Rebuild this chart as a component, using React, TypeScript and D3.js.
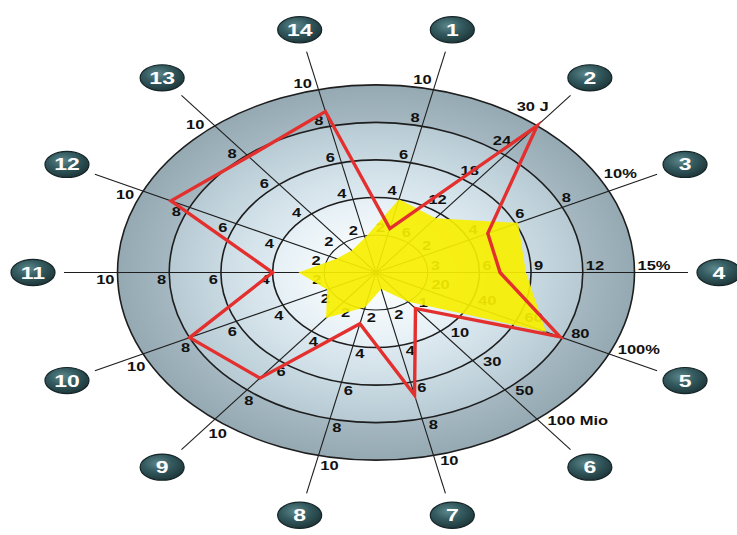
import React from 'react';
import * as d3 from 'd3';

// ---------- data ----------
const axisNumbers = ['1', '2', '3', '4', '5', '6', '7', '8', '9', '10', '11', '12', '13', '14'];
const ringLevels = [2, 4, 6, 8, 10];
const tickLabels: string[][] = [
  ['2', '4', '6', '8', '10'],
  ['6', '12', '18', '24', '30 J'],
  ['2', '4', '6', '8', '10%'],
  ['3', '6', '9', '12', '15%'],
  ['20', '40', '60', '80', '100%'],
  ['1', '10', '30', '50', '100 Mio'],
  ['2', '4', '6', '8', '10'],
  ['2', '4', '6', '8', '10'],
  ['2', '4', '6', '8', '10'],
  ['2', '4', '6', '8', '10'],
  ['2', '4', '6', '8', '10'],
  ['2', '4', '6', '8', '10'],
  ['2', '4', '6', '8', '10'],
  ['2', '4', '6', '8', '10'],
];
const redSeries = [2.4, 10, 4.8, 4.8, 7.9, 2.45, 6.7, 2.8, 7.2, 8.0, 4.0, 8.8, 7.9, 8.8];
const yellowSeries = [4.0, 3.7, 6.1, 5.8, 7.3, 2.0, 0.9, 1.9, 3.1, 2.1, 3.0, 1.7, 1.5, 1.9];

// ---------- layout ----------
const W = 737;
const H = 535;
const CX = 376;
const CY = 272.5;
const SY = 0.726;
const R = 258.5;
const AXIS_LEN = 312;
const BADGE_R = 343;
const FS = 16.5;

const charW = (ch: string) => {
  if ('0123456789'.includes(ch)) return 0.556;
  if (ch === '%') return 0.889;
  if (ch === ' ') return 0.278;
  if (ch === 'M') return 0.833;
  if (ch === 'i') return 0.278;
  if (ch === 'o') return 0.611;
  if (ch === 'J') return 0.556;
  return 0.6;
};
const textW = (s: string, fs: number) => s.split('').reduce((a, c) => a + charW(c), 0) * fs;

export default function App() {
  const n = axisNumbers.length;
  const rScale = d3.scaleLinear().domain([0, 10]).range([0, R]);
  const angleScale = d3.scaleLinear().domain([0, n]).range([0, 2 * Math.PI]);
  const ang = (i: number) => angleScale(i + 0.5);

  const radial = d3
    .lineRadial<number>()
    .angle((_d, i) => ang(i))
    .radius((d) => rScale(d))
    .curve(d3.curveLinearClosed);

  const font = "'Liberation Sans', Arial, Helvetica, sans-serif";

  const labels: { x: number; y: number; t: string }[] = [];
  tickLabels.forEach((arr, i) => {
    const a = ang(i);
    const dx = Math.sin(a);
    const dy = -Math.cos(a);
    const px = -Math.cos(a);
    const py = -Math.sin(a);
    arr.forEach((t, k) => {
      const rr = rScale(ringLevels[k]);
      const w = textW(t, FS);
      const h = FS * 0.72;
      const extOut = (Math.abs(dx) * w) / 2 + (Math.abs(dy) * h) / 2;
      const extPerp = (Math.abs(px) * w) / 2 + (Math.abs(py) * h) / 2;
      const x = dx * rr + dx * (3 + extOut) + px * (3.5 + extPerp);
      const y = dy * rr + dy * (3 + extOut) + py * (3.5 + extPerp);
      labels.push({ x, y, t });
    });
  });

  return (
    <svg
      width={W}
      height={H}
      viewBox={`0 0 ${W} ${H}`}
      style={{ position: 'absolute', left: 0, top: 0, background: '#ffffff' }}
    >
      <defs>
        <radialGradient id="bg" gradientUnits="userSpaceOnUse" cx={0} cy={0} r={R}>
          <stop offset="0" stopColor="#ffffff" />
          <stop offset="0.2" stopColor="#f4f9fb" />
          <stop offset="0.4" stopColor="#e4eff5" />
          <stop offset="0.4" stopColor="#dde9f0" />
          <stop offset="0.6" stopColor="#cddde5" />
          <stop offset="0.6" stopColor="#c8d9e1" />
          <stop offset="0.8" stopColor="#b7cad3" />
          <stop offset="0.8" stopColor="#a5b8c1" />
          <stop offset="1" stopColor="#95a9b3" />
        </radialGradient>
        <radialGradient id="badge" cx="40%" cy="35%" r="70%">
          <stop offset="0" stopColor="#5d878c" />
          <stop offset="0.45" stopColor="#345b60" />
          <stop offset="1" stopColor="#1c3437" />
        </radialGradient>
      </defs>
      <g transform={`translate(${CX},${CY}) scale(1,${SY})`}>
        <circle r={R} fill="url(#bg)" />
        {ringLevels.map((v) => (
          <circle
            key={v}
            r={rScale(v)}
            fill="none"
            stroke="#1e1e1e"
            strokeWidth={v === 2 ? 1.1 : 1.6}
            vectorEffect="non-scaling-stroke"
          />
        ))}
        {axisNumbers.map((_id, i) => {
          const a = ang(i);
          return (
            <line
              key={i}
              x1={0}
              y1={0}
              x2={Math.sin(a) * AXIS_LEN}
              y2={-Math.cos(a) * AXIS_LEN}
              stroke="#1e1e1e"
              strokeWidth={1.1}
              vectorEffect="non-scaling-stroke"
            />
          );
        })}
        {labels.map((l, i) => (
          <text
            key={i}
            x={l.x}
            y={l.y + FS * 0.36}
            textAnchor="middle"
            fontFamily={font}
            fontWeight="bold"
            fontSize={FS}
            fill="#111"
          >
            {l.t}
          </text>
        ))}
        <path d={radial(yellowSeries) || ''} fill="#f7ef00" fillOpacity={0.92} stroke="none" />
        <path
          d={radial(redSeries) || ''}
          fill="none"
          stroke="#e3302e"
          strokeWidth={3.4}
          strokeLinejoin="miter"
          vectorEffect="non-scaling-stroke"
        />
        {axisNumbers.map((id, i) => {
          const a = ang(i);
          const x = Math.sin(a) * BADGE_R;
          const y = -Math.cos(a) * BADGE_R;
          return (
            <g key={id} transform={`translate(${x},${y})`}>
              <ellipse rx={22} ry={18} fill="url(#badge)" stroke="#142427" strokeWidth={1.2} vectorEffect="non-scaling-stroke" />
              <text
                x={0}
                y={23 * 0.36}
                textAnchor="middle"
                fontFamily={font}
                fontWeight="bold"
                fontSize={23}
                fill="#ffffff"
              >
                {id}
              </text>
            </g>
          );
        })}
      </g>
    </svg>
  );
}
